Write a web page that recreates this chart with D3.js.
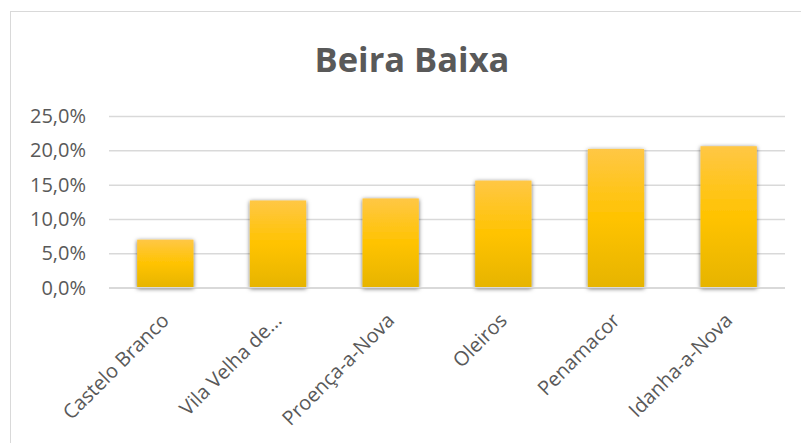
<!DOCTYPE html>
<html>
<head>
<meta charset="utf-8">
<script src="https://cdn.jsdelivr.net/npm/d3@7"></script>
<style>
  body { margin: 0; background: #fff; }
  svg { display: block; }
</style>
</head>
<body>
<div id="chart"></div>
<script>
// data
const categories = ["Castelo Branco", "Vila Velha de...", "Proença-a-Nova", "Oleiros", "Penamacor", "Idanha-a-Nova"];
const values = [0.070, 0.127, 0.130, 0.156, 0.202, 0.206];
const yTicks = [0, 0.05, 0.10, 0.15, 0.20, 0.25];
const title = "Beira Baixa";

const width = 801, height = 443;
const margin = { top: 116, right: 16, bottom: 156, left: 109 };
const fontFamily = "'Open Sans', 'Noto Sans', sans-serif";

const svg = d3.select("#chart").append("svg")
  .attr("width", width)
  .attr("height", height);

// chart area border
svg.append("rect")
  .attr("x", 10.5).attr("y", 11.5)
  .attr("width", width + 10).attr("height", height + 10)
  .attr("fill", "#fff")
  .attr("stroke", "#d9d9d9");

const defs = svg.append("defs");
const grad = defs.append("linearGradient")
  .attr("id", "barGrad")
  .attr("x1", 0).attr("y1", 0).attr("x2", 0).attr("y2", 1);
grad.append("stop").attr("offset", "0%").attr("stop-color", "#ffc745");
grad.append("stop").attr("offset", "50%").attr("stop-color", "#ffc300");
grad.append("stop").attr("offset", "100%").attr("stop-color", "#e6b400");

const shadow = defs.append("filter")
  .attr("id", "shadow")
  .attr("x", "-30%").attr("y", "-30%").attr("width", "160%").attr("height", "160%");
shadow.append("feDropShadow")
  .attr("dx", 0).attr("dy", 1)
  .attr("stdDeviation", 2)
  .attr("flood-color", "#000")
  .attr("flood-opacity", 0.6);

const x = d3.scaleBand()
  .domain(categories)
  .range([margin.left, width - margin.right])
  .paddingInner(0.5)
  .paddingOuter(0.25);

const y = d3.scaleLinear()
  .domain([0, 0.25])
  .range([height - margin.bottom + 0.7, margin.top]);

const fmt = v => d3.format(".1f")(v * 100).replace(".", ",") + "%";

// gridlines + y labels
const yAxis = svg.append("g")
  .attr("transform", `translate(${margin.left},0)`)
  .call(d3.axisLeft(y)
    .tickValues(yTicks)
    .tickFormat(fmt)
    .tickSize(-(width - margin.left - margin.right))
    .tickPadding(23));
yAxis.select(".domain").remove();
yAxis.selectAll(".tick line")
  .attr("stroke", "#d9d9d9")
  .attr("stroke-width", 1.5);
yAxis.selectAll(".tick text")
  .attr("fill", "#595959")
  .style("font-family", fontFamily)
  .style("font-size", "20px");

// bars
svg.append("g")
  .selectAll("rect")
  .data(values)
  .join("rect")
    .attr("x", (d, i) => x(categories[i]))
    .attr("width", x.bandwidth())
    .attr("y", d => y(d))
    .attr("height", d => y(0) - y(d))
    .attr("fill", "url(#barGrad)")
    .attr("filter", "url(#shadow)");

// baseline
svg.append("line")
  .attr("x1", margin.left).attr("x2", width - margin.right)
  .attr("y1", y(0)).attr("y2", y(0))
  .attr("stroke", "#d9d9d9")
  .attr("stroke-width", 1.5);

// x labels, rotated
svg.append("g")
  .selectAll("text")
  .data(categories)
  .join("text")
    .attr("transform", d => `translate(${x(d) + x.bandwidth() / 2 + 5},${y(0) + 34}) rotate(-45)`)
    .attr("text-anchor", "end")
    .attr("fill", "#595959")
    .style("font-family", fontFamily)
    .style("font-size", "20px")
    .text(d => d);

// title
svg.append("text")
  .attr("x", 412)
  .attr("y", 72)
  .attr("text-anchor", "middle")
  .attr("fill", "#595959")
  .style("font-family", fontFamily)
  .style("font-weight", "bold")
  .style("font-size", "34.5px")
  .text(title);
</script>
</body>
</html>
